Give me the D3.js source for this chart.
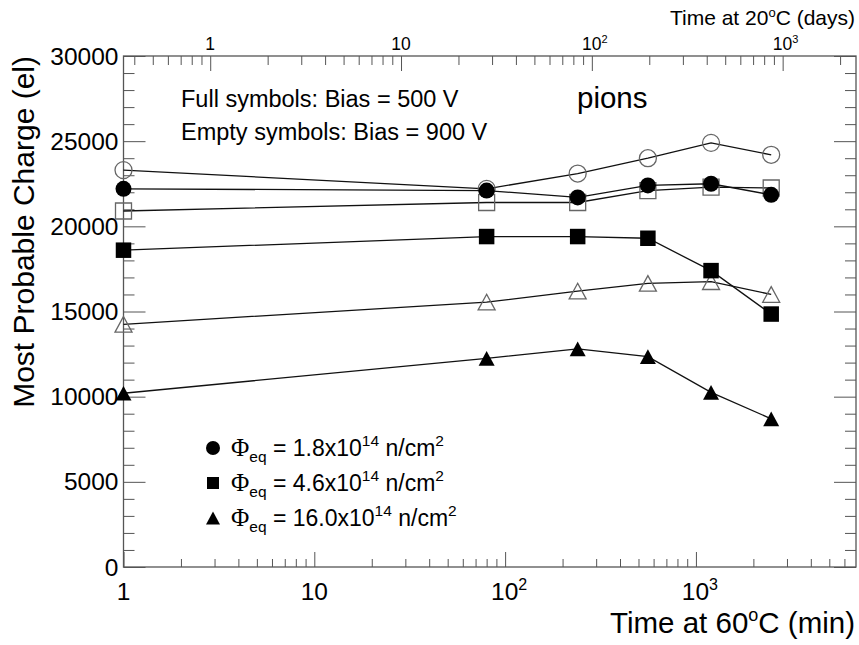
<!DOCTYPE html>
<html>
<head>
<meta charset="utf-8">
<script src="https://cdn.jsdelivr.net/npm/d3@7"></script>
<style>
  html, body { margin: 0; padding: 0; background: #fff; }
  svg { display: block; font-family: "Liberation Sans", Arial, Helvetica, sans-serif; }
</style>
</head>
<body>
<svg id="chart" width="859" height="645"></svg>
<script>
// Annealing times at 60 °C (minutes)
const timesMin = [1, 80, 240, 560, 1200, 2480];

// Most probable charge (electrons); 500 V = full symbols, 900 V = empty symbols
const phi18_500 = [22200, 22100, 21700, 22400, 22500, 21850];
const phi18_900 = [23300, 22200, 23100, 24000, 24900, 24200];
const phi46_500 = [18600, 19400, 19400, 19300, 17400, 14850];
const phi46_900 = [20900, 21400, 21400, 22100, 22300, 22250];
const phi160_500 = [10200, 12250, 12800, 12350, 10250, 8700];
const phi160_900 = [14250, 15550, 16200, 16650, 16750, 16000];

// Axis tick values
const yMajorTicks = [0, 5000, 10000, 15000, 20000, 25000, 30000];
const xMajorTicks = [1, 10, 100, 1000];
const xMajorLabels = [["1", ""], ["10", ""], ["10", "2"], ["10", "3"]];
const dayMajorTicks = [1, 10, 100, 1000];
const dayMajorLabels = [["1", ""], ["10", ""], ["10", "2"], ["10", "3"]];

// Legend entries
const legendFluence = ["1.8", "4.6", "16.0"];
const legendShapes = ["circle", "square", "triangle"];

const minToDays = 0.3512;   // equivalent days at 20 °C per minute at 60 °C
const xMin = 1, xMax = 6900;

const svg = d3.select("#chart");
const L = 123.5, R = 856, T = 56, B = 567;
const frameColor = "#555";

const x = d3.scaleLog().domain([xMin, xMax]).range([L, R]);
const xDays = d3.scaleLog().domain([xMin * minToDays, xMax * minToDays]).range([L, R]);
const y = d3.scaleLinear().domain([0, 30000]).range([B, T]);

// minor tick lists on log axes
function logMinors(lo, hi) {
  const out = [];
  for (let e = -1; e <= 4; e++) {
    for (let m = 2; m <= 9; m++) {
      const v = m * Math.pow(10, e);
      if (v > lo && v < hi) out.push(v);
    }
  }
  return out;
}
const xMinorTicks = logMinors(xMin, xMax);
const dayMinorTicks = logMinors(xMin * minToDays, xMax * minToDays);
const yMinorTicks = d3.range(0, 30001, 1000).filter(v => v % 5000 !== 0);

function styleAxis(g) {
  g.select(".domain").remove();
  g.selectAll(".tick line").attr("stroke", frameColor).attr("stroke-width", 1);
  g.selectAll(".tick text").remove();
}

// bottom axis (ticks pointing inside)
svg.append("g").attr("transform", `translate(0,${B})`)
  .call(d3.axisBottom(x).tickValues(xMinorTicks).tickSize(-8).tickFormat(""))
  .call(styleAxis);
svg.append("g").attr("transform", `translate(0,${B})`)
  .call(d3.axisBottom(x).tickValues(xMajorTicks).tickSize(-15).tickFormat(""))
  .call(styleAxis);

// top axis in days
svg.append("g").attr("transform", `translate(0,${T})`)
  .call(d3.axisTop(xDays).tickValues(dayMinorTicks).tickSize(-9).tickFormat(""))
  .call(styleAxis);
svg.append("g").attr("transform", `translate(0,${T})`)
  .call(d3.axisTop(xDays).tickValues(dayMajorTicks).tickSize(-15).tickFormat(""))
  .call(styleAxis);

// left and right axes
svg.append("g").attr("transform", `translate(${L},0)`)
  .call(d3.axisLeft(y).tickValues(yMinorTicks).tickSize(-11).tickFormat(""))
  .call(styleAxis);
svg.append("g").attr("transform", `translate(${L},0)`)
  .call(d3.axisLeft(y).tickValues(yMajorTicks).tickSize(-22).tickFormat(""))
  .call(styleAxis);
svg.append("g").attr("transform", `translate(${R},0)`)
  .call(d3.axisRight(y).tickValues(yMinorTicks).tickSize(-11).tickFormat(""))
  .call(styleAxis);
svg.append("g").attr("transform", `translate(${R},0)`)
  .call(d3.axisRight(y).tickValues(yMajorTicks).tickSize(-22).tickFormat(""))
  .call(styleAxis);

// frame
svg.append("rect")
  .attr("x", L).attr("y", T).attr("width", R - L).attr("height", B - T)
  .attr("fill", "none").attr("stroke", frameColor).attr("stroke-width", 1.3);

// y tick labels
svg.append("g").selectAll("text").data(yMajorTicks).join("text")
  .attr("x", L - 5).attr("y", d => y(d) + 8.5)
  .attr("text-anchor", "end").attr("font-size", 24.5).attr("fill", "#000")
  .text(d => d);

// labels with optional superscript
function powerLabel(sel, supSize, supDy) {
  sel.each(function(d) {
    const t = d3.select(this);
    t.append("tspan").text(d.lab[0]);
    if (d.lab[1]) {
      t.append("tspan").attr("font-size", supSize).attr("dy", supDy).text(d.lab[1]);
    }
  });
}

svg.append("g").selectAll("text")
  .data(xMajorTicks.map((v, i) => ({ v, lab: xMajorLabels[i] })))
  .join("text")
  .attr("x", d => x(d.v) + (d.lab[1] ? 4 : 0)).attr("y", 600)
  .attr("text-anchor", "middle").attr("font-size", 24.5).attr("fill", "#000")
  .call(powerLabel, 16, -10);

svg.append("g").selectAll("text")
  .data(dayMajorTicks.map((v, i) => ({ v, lab: dayMajorLabels[i] })))
  .join("text")
  .attr("x", d => xDays(d.v) + (d.lab[1] ? 3 : 0)).attr("y", 50)
  .attr("text-anchor", "middle").attr("font-size", 17.5).attr("fill", "#000")
  .call(powerLabel, 11, -7);

// axis titles
const xTitle = svg.append("text").attr("x", 855).attr("y", 633)
  .attr("text-anchor", "end").attr("font-size", 29.5).attr("fill", "#000");
xTitle.append("tspan").text("Time at 60");
xTitle.append("tspan").attr("font-size", 18).attr("dy", -12).text("o");
xTitle.append("tspan").attr("dy", 12).text("C (min)");

const topTitle = svg.append("text").attr("x", 855).attr("y", 25)
  .attr("text-anchor", "end").attr("font-size", 21).attr("fill", "#000");
topTitle.append("tspan").text("Time at 20");
topTitle.append("tspan").attr("font-size", 13).attr("dy", -8).text("o");
topTitle.append("tspan").attr("dy", 8).text("C (days)");

svg.append("text")
  .attr("transform", `translate(34,${T}) rotate(-90)`)
  .attr("text-anchor", "end").attr("font-size", 30).attr("fill", "#000")
  .text("Most Probable Charge (el)");

// annotations
svg.append("text").attr("x", 181).attr("y", 107).attr("font-size", 23.5)
  .text("Full symbols: Bias = 500 V");
svg.append("text").attr("x", 181).attr("y", 140).attr("font-size", 23.5)
  .text("Empty symbols: Bias = 900 V");
svg.append("text").attr("x", 577).attr("y", 108).attr("font-size", 29.5)
  .text("pions");

// marker paths centred on (0,0)
function markerPath(shape, s) {
  const h = s / 2;
  if (shape === "circle") {
    return `M${-h},0A${h},${h} 0 1,0 ${h},0A${h},${h} 0 1,0 ${-h},0Z`;
  }
  if (shape === "square") {
    return `M${-h},${-h}H${h}V${h}H${-h}Z`;
  }
  const th = s * 0.92 / 2;
  return `M0,${-th}L${h},${th}L${-h},${th}Z`;
}

const line = d3.line().x(d => x(d.t)).y(d => y(d.q));

const series = [
  { vals: phi18_900, shape: "circle", filled: false, size: 17 },
  { vals: phi46_900, shape: "square", filled: false, size: 16 },
  { vals: phi160_900, shape: "triangle", filled: false, size: 17 },
  { vals: phi18_500, shape: "circle", filled: true, size: 16 },
  { vals: phi46_500, shape: "square", filled: true, size: 15.5 },
  { vals: phi160_500, shape: "triangle", filled: true, size: 16 }
];

series.forEach(s => {
  const pts = timesMin.map((t, i) => ({ t, q: s.vals[i] }));
  const g = svg.append("g");
  g.append("path").datum(pts).attr("d", line)
    .attr("fill", "none").attr("stroke", "#111").attr("stroke-width", 1.3);
  g.selectAll("path.m").data(pts).join("path").attr("class", "m")
    .attr("transform", d => `translate(${x(d.t)},${y(d.q)})`)
    .attr("d", markerPath(s.shape, s.size))
    .attr("fill", s.filled ? "#000" : "none")
    .attr("stroke", s.filled ? "#000" : "#666")
    .attr("stroke-width", s.filled ? 0 : 1.3);
});

// legend
const legendRows = [448, 483, 518];
legendFluence.forEach((f, i) => {
  const ly = legendRows[i];
  svg.append("path")
    .attr("transform", `translate(213,${ly})`)
    .attr("d", markerPath(legendShapes[i], legendShapes[i] === "square" ? 12 : 14))
    .attr("fill", "#000");
  const t = svg.append("text").attr("x", 231).attr("y", ly + 8)
    .attr("font-size", 23).attr("fill", "#000");
  t.append("tspan").attr("font-family", '"Liberation Serif", "DejaVu Serif", serif')
    .attr("font-size", 25).text("\u03A6");
  t.append("tspan").attr("font-size", 15.5).attr("dy", 6).text("eq");
  t.append("tspan").attr("dy", -6).text(` = ${f}x10`);
  t.append("tspan").attr("font-size", 15.5).attr("dy", -10).text("14");
  t.append("tspan").attr("dy", 10).text(" n/cm");
  t.append("tspan").attr("font-size", 15.5).attr("dy", -10).text("2");
});
</script>
</body>
</html>
